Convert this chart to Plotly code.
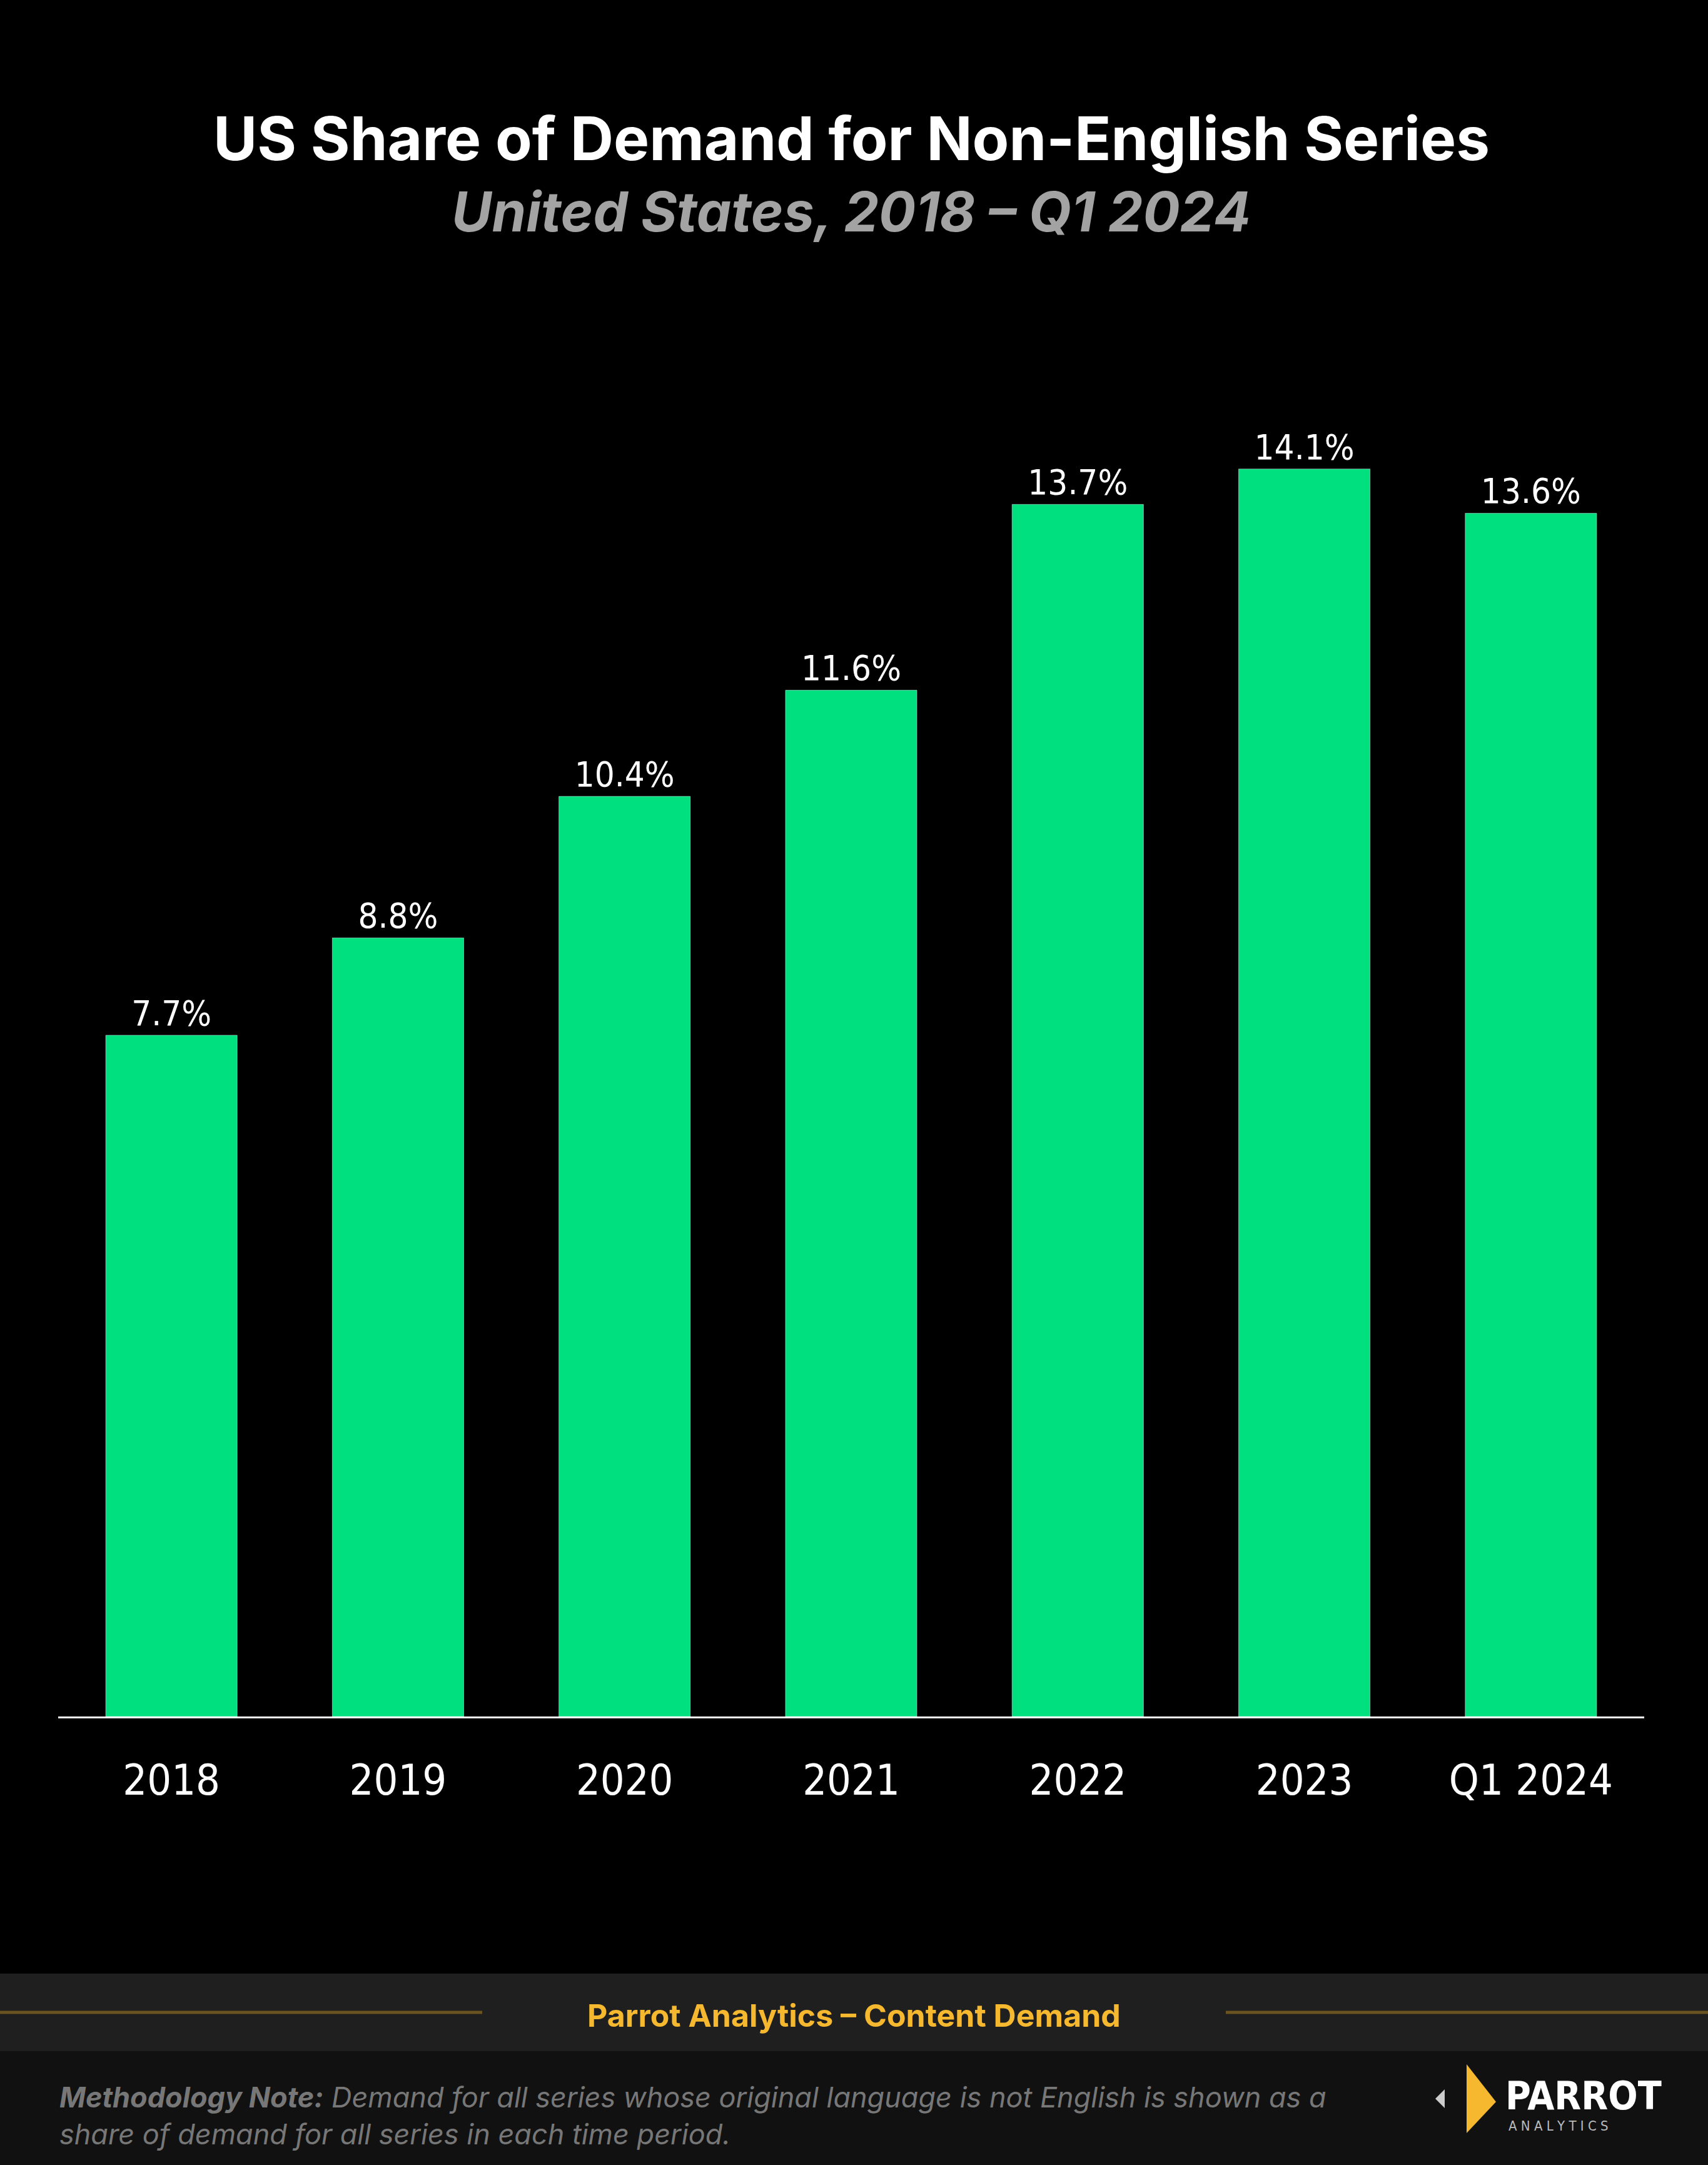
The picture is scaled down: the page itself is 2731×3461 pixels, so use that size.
import plotly.graph_objects as go

categories = ['2018', '2019', '2020', '2021', '2022', '2023', 'Q1 2024']
share = [7.7, 8.8, 10.4, 11.6, 13.7, 14.1, 13.6]
labels = ['7.7%', '8.8%', '10.4%', '11.6%', '13.7%', '14.1%', '13.6%']

W, H = 2731, 3461
L, R, T, B = 93, 102, 481, 717
plot_h = H - T - B
plot_w = W - L - R
COND = 'DejaVu Sans Condensed, Roboto'


def py(y):
    return (H - B - y) / plot_h


def px(x):
    return (x - L) / plot_w


fig = go.Figure()
fig.add_trace(go.Bar(x=categories, y=share, text=labels, textposition='outside',
                     marker_color='#00e07f', width=0.58, cliponaxis=False,
                     textfont=dict(family=COND, size=56, color='white')))

shapes = [
    dict(type='rect', xref='paper', yref='paper', x0=px(0), x1=px(W), y0=py(3155), y1=py(3279),
         fillcolor='#1f1f1f', line_width=0, layer='below'),
    dict(type='rect', xref='paper', yref='paper', x0=px(0), x1=px(W), y0=py(3279), y1=py(H),
         fillcolor='#111111', line_width=0, layer='below'),
    dict(type='line', xref='paper', yref='paper', x0=px(0), x1=px(771), y0=py(3217), y1=py(3217),
         line=dict(color='#6b5420', width=5)),
    dict(type='line', xref='paper', yref='paper', x0=px(1960), x1=px(W), y0=py(3217), y1=py(3217),
         line=dict(color='#6b5420', width=5)),
    # logo mark
    dict(type='path', xref='paper', yref='paper',
         path=f'M {px(2345)} {py(3300)} L {px(2392)} {py(3360)} L {px(2345)} {py(3410)} Z',
         fillcolor='#f5b82e', line_width=0),
    dict(type='path', xref='paper', yref='paper',
         path=f'M {px(2295)} {py(3355)} L {px(2310)} {py(3340)} L {px(2310)} {py(3370)} Z',
         fillcolor='#cccccc', line_width=0),
]

annotations = [
    dict(text='<b>US Share of Demand for Non-English Series</b>', x=0.5, y=py(221),
         font=dict(family='Inter', size=96, color='white')),
    dict(text='<b><i>United States, 2018 – Q1 2024</i></b>', x=0.5, y=py(338),
         font=dict(family='Inter', size=88, color='#a3a3a3')),
    dict(text='<b>Parrot Analytics – Content Demand</b>', x=px(1365), y=py(3222),
         font=dict(family='Inter', size=50, color='#f5b82e')),
    dict(text='<b><i>Methodology Note:</i></b><i> Demand for all series whose original language is not English is shown as a<br>share of demand for all series in each time period.</i>',
         x=px(93), y=py(3382), xanchor='left', align='left',
         font=dict(family='Inter', size=45, color='#777777')),
    dict(text='<b>PARROT</b>', x=px(2405), y=py(3350), xanchor='left',
         font=dict(family=COND, size=62, color='white')),
    dict(text='A N A L Y T I C S', x=px(2410), y=py(3398), xanchor='left',
         font=dict(family=COND, size=22, color='#bbbbbb')),
]
for a in annotations:
    a.update(xref='paper', yref='paper', yanchor='middle', showarrow=False)

fig.update_layout(
    width=W, height=H, margin=dict(l=L, r=R, t=T, b=B),
    paper_bgcolor='black', plot_bgcolor='black', showlegend=False,
    shapes=shapes, annotations=annotations,
    xaxis=dict(showline=True, linecolor='white', linewidth=3, ticks='', showgrid=False,
               tickfont=dict(family=COND, size=68, color='white'), ticklabelstandoff=40),
    yaxis=dict(range=[0, 16], visible=False),
)

fig.write_html('out.html', config={'displayModeBar': False},
               post_script="document.body.style.margin='0';document.body.style.background='black';")
